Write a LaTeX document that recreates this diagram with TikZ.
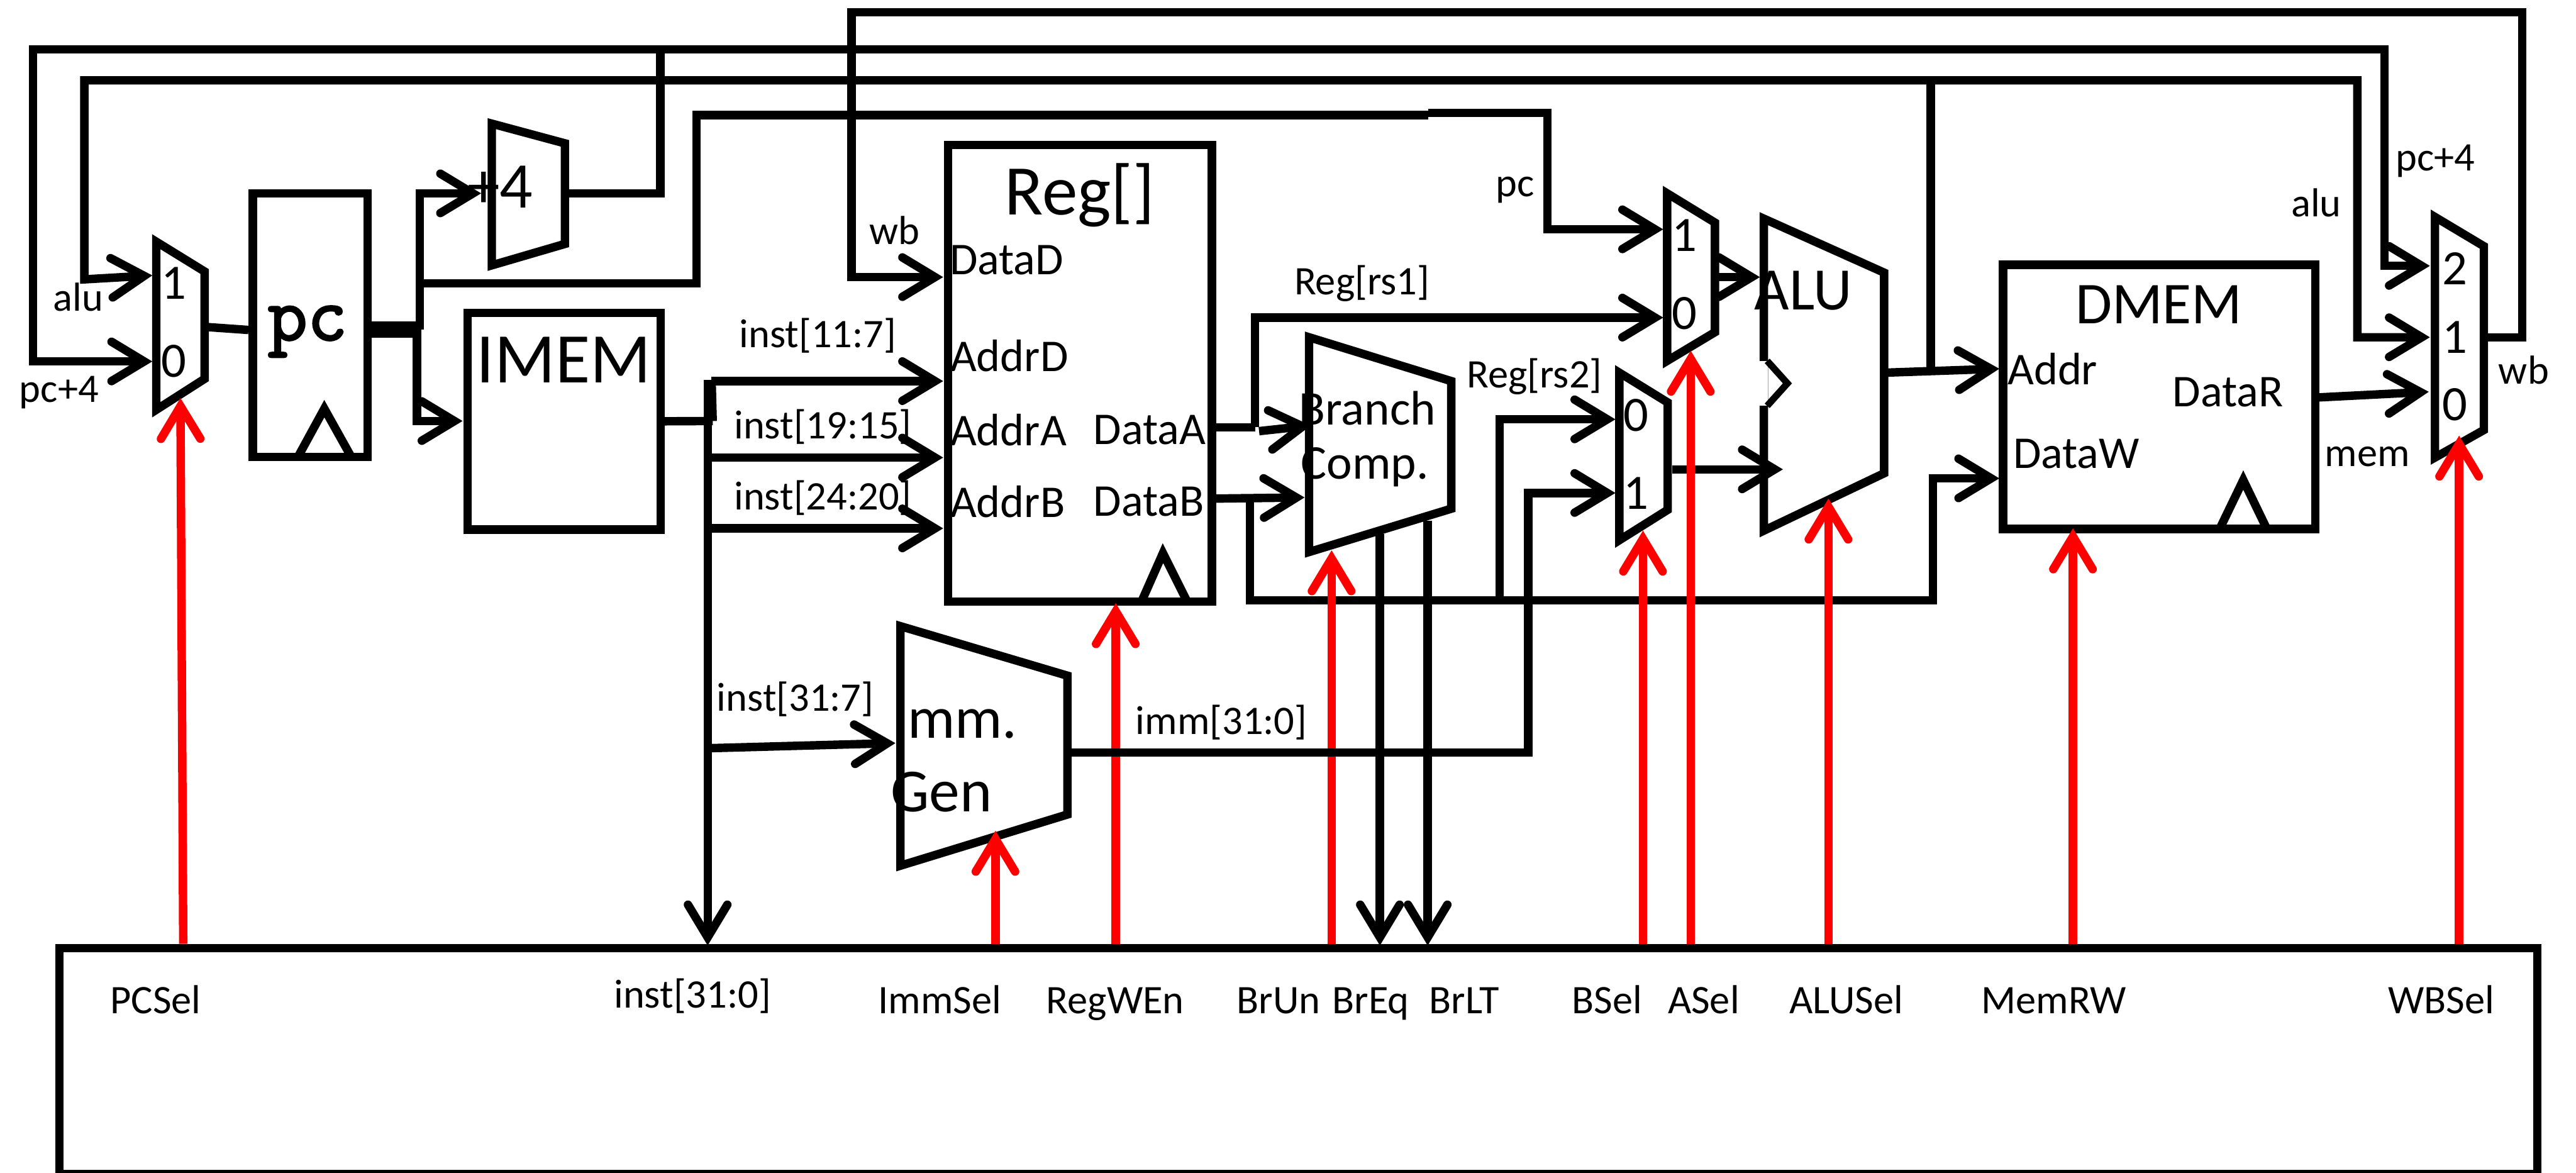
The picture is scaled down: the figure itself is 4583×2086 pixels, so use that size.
\documentclass[tikz,border=0pt]{standalone}
\usepackage{fontspec}
\setmainfont{Carlito}
\newfontfamily\pcfont[FakeBold=2.5]{Latin Modern Mono}
\usetikzlibrary{arrows.meta}
\newcommand{\fz}[1]{\fontsize{#1}{#1}\selectfont}
\tikzset{
  wire/.style={line width=.15cm,draw=black,>={Straight Barb[length=.58cm,width=.7cm,line cap=round]}},
  ctl/.style={line width=.15cm,draw=red,>={Straight Barb[length=.58cm,width=.7cm,line cap=round]}},
  outline/.style={line width=.15cm,draw=black,line join=miter},
  blk/.style={outline,rectangle,inner sep=0pt,outer sep=0pt},
  lbl/.style={inner sep=0pt,font=\fz{20.5}},
  sig/.style={inner sep=0pt,anchor=base,font=\fz{20.5}},
  port/.style={inner sep=0pt,anchor=west,font=\fz{23}},
  dig/.style={inner sep=0pt,font=\fz{25}},
  ttl/.style={inner sep=0pt,font=\fz{36}},
  mid/.style={inner sep=0pt,font=\fz{24.5}},
  clk/.style={line width=.15cm,draw=black},
}
\begin{document}
\begin{tikzpicture}[x=0.01cm,y=-0.01cm]
\useasboundingbox (0,0) rectangle (4583,2086);
% blocks
\node[blk,minimum width=2.04cm,minimum height=4.69cm] (pcreg) at (552,578.5) {};
\node[blk,minimum width=3.43cm,minimum height=3.85cm] (imem) at (1003.5,749.5) {};
\node[blk,minimum width=4.69cm,minimum height=8.12cm] (regs) at (1921.5,664) {};
\node[blk,minimum width=5.55cm,minimum height=4.70cm] (dmem) at (3841.5,706) {};
\node[blk,minimum width=44.06cm,minimum height=4.02cm] (ctrl) at (2310,1888) {};
% trapezoids
\draw[outline] (278,430) -- (364,483) -- (364,674) -- (278,729) -- cycle;
\draw[outline] (875,220) -- (1005,255) -- (1005,434) -- (875,472) -- cycle;
\draw[outline] (1602,1114) -- (1899,1202) -- (1899,1449) -- (1602,1540) -- cycle;
\draw[outline] (2329,600) -- (2582,678) -- (2582,905) -- (2329,982) -- cycle;
\draw[outline] (2966,344) -- (3051,396) -- (3051,591) -- (2966,642) -- cycle;
\draw[outline] (2881,663) -- (2967,716) -- (2967,907) -- (2881,961) -- cycle;
\draw[outline] (3138,389) -- (3352,485) -- (3352,842) -- (3138,944) -- cycle;
\draw[outline] (4332,386) -- (4419,438) -- (4419,765) -- (4332,814) -- cycle;
\fill[white] (3129,642) rectangle (3145,722);
\draw[line width=.12cm] (3144,642) -- (3180,682) -- (3144,722);
% clock triangles
\draw[clk] (530,813) -- (577,727) -- (625,813);
\draw[clk] (2031,1070) -- (2069,984) -- (2112,1070);
\draw[clk] (3949,941) -- (3991,854) -- (4033,941);
% ports and bends
\foreach \n/\x/\y in {
  muxAin1/271/490, muxAin0/271/643, muxAout/371/582, pcin/442/587,
  pcout/660/586, pcbus/746/586, addIn/856/344, addOut/1005/344, addUp/1175/344, addTop/1175/88,
  upA/747/586, upB/747/344, pcTap/747/504, pcR/1239/504, pcT/1239/205, pcS/2541/205, pcS2/2541/201, pcV/2753/201, pcH/2753/408, muxBin1/2959/408,
  dnA/742/586, dnB/742/749, imemIn/823/749,
  instTop/1266/676, instBot/1259/1682, instTopB/1259/676, tap1/1266/678, tap2/1259/814, tap3/1259/940, tap4/1263/1331,
  instOut/1268/749, dIn/1678/678, aIn/1678/814, bIn/1678/940, immIn/1593/1322,
  wbOut/4424/600, wbR/4487/600, wbT/4487/22, wbL/1515/22, wbB/1515/493, wbIn/1678/493,
  l88a/59/643, l88b/59/88, l88c/4242/88, l88d/4242/473, muxD2/4323/473,
  l143a/150/497, l143b/150/143, l143c/4194/143, l143d/4194/600, muxD1/4323/600,
  aluTap/3435/143, aluTapB/3435/660, aluOut/3354/663, addrIn/3557/656,
  dAout/2160/760, dAv/2233/760, dAt/2233/565, muxB0/2959/565, dAs/2240/767, cmpA/2332/757,
  dBout/2160/887, cmpB/2321/885, dBv/2224/887, dBb/2224/1068, dBm/2668/1068, dBu/2668/746, muxC0/2874/746,
  dBr/3439/1068, dBn/3439/851, dwIn/3557/851,
  immOut/1903/1339, immR/2719/1339, immU/2719/877, muxC1/2874/877,
  muxBout/3058/493, aluA/3131/493, muxCout/2975/835, aluB/3172/835,
  memOut/4125/707, muxD0/4321/697,
  eqTop/2455/950, eqBot/2455/1682, ltTop/2540/926, ltBot/2540/1682,
  rPCa/326/1679, rPCb/321/708, rImma/1771/1679, rImmb/1771/1478, rRega/1985/1679, rRegb/1985/1073,
  rUna/2369/1679, rUnb/2369/979, rBa/2923/1679, rBb/2923/944, rAa/3008/1679, rAb/3008/624,
  rALa/3253/1679, rALb/3253/887, rMa/3688/1679, rMb/3688/940, rWa/4375/1679, rWb/4375/775}
  {\coordinate (\n) at (\x,\y);}
% black wires
\draw[wire,<->] (muxAin0) -- (l88a) -- (l88b) -- (l88c) -- (l88d) -- (muxD2);
\draw[wire,<->] (muxAin1) -- (l143a) -- (l143b) -- (l143c) -- (l143d) -- (muxD1);
\draw[wire] (addOut) -- (addUp) -- (addTop);
\draw[wire,->] (wbOut) -- (wbR) -- (wbT) -- (wbL) -- (wbB) -- (wbIn);
\draw[wire] (muxAout) -- (pcin);
\draw[line width=.29cm] (pcout) -- (pcbus);
\draw[wire,->] (upA) -- (upB) -- (addIn);
\draw[wire] (pcTap) -- (pcR) -- (pcT) -- (pcS);
\draw[wire,->] (pcS2) -- (pcV) -- (pcH) -- (muxBin1);
\draw[wire,->] (dnA) -- (dnB) -- (imemIn);
\draw[wire] (imem.east) -- (instOut);
\draw[wire] (instTop) -- (instOut);
\draw[wire,->] (instTopB) -- (instBot);
\draw[wire,->] (tap1) -- (dIn);
\draw[wire,->] (tap2) -- (aIn);
\draw[wire,->] (tap3) -- (bIn);
\draw[wire,->] (tap4) -- (immIn);
\draw[wire] (aluTap) -- (aluTapB);
\draw[wire,->] (aluOut) -- (addrIn);
\draw[wire] (dAout) -- (dAv);
\draw[wire,->] (dAv) -- (dAt) -- (muxB0);
\draw[wire,->] (dAs) -- (cmpA);
\draw[wire,->] (dBout) -- (cmpB);
\draw[wire] (dBv) -- (dBb) -- (dBm);
\draw[wire,->] (dBm) -- (dBu) -- (muxC0);
\draw[wire,->] (dBm) -- (dBr) -- (dBn) -- (dwIn);
\draw[wire,->] (muxBout) -- (aluA);
\draw[wire,->] (muxCout) -- (aluB);
\draw[wire,->] (memOut) -- (muxD0);
\draw[wire,->] (eqTop) -- (eqBot);
\draw[wire,->] (ltTop) -- (ltBot);
% control signals
\draw[ctl,->] (rPCa) -- (rPCb);
\draw[ctl,->] (rImma) -- (rImmb);
\draw[ctl,->] (rRega) -- (rRegb);
\draw[ctl,->] (rUna) -- (rUnb);
\draw[ctl,->] (rBa) -- (rBb);
\draw[ctl,->] (rAa) -- (rAb);
\draw[ctl,->] (rALa) -- (rALb);
\draw[ctl,->] (rMa) -- (rMb);
\draw[ctl,->] (rWa) -- (rWb);
% imm wire passes over the red lines
\draw[wire,->] (immOut) -- (immR) -- (immU) -- (muxC1);
% texts in blocks
\node[inner sep=0pt,font=\fz{39}\pcfont] (tpc) at (547,590) {pc};
\node[ttl] (timem) at (1003,640) {IMEM};
\node[ttl] (treg) at (1921,347) {Reg[]};
\node[ttl,font=\fz{33}] (tplus) at (890,332) {+4};
\node[ttl,font=\fz{30}] (tdmem) at (3841,542) {DMEM};
\node[ttl,font=\fz{30.5}] (talu) at (3208,517) {ALU};
\node[ttl,font=\fz{30}] (timm) at (1699,1280) {Imm.};
\node[ttl,font=\fz{31}] (tgen) at (1675,1409) {Gen};
\node[mid] (tbr) at (2433,726) {Branch};
\node[mid] (tco) at (2428,831) {Comp.};
\node[port] (pdd) at (1689,463) {DataD};
\node[port] (pad) at (1690,633) {AddrD};
\node[port] (paa) at (1690,765) {AddrA};
\node[port] (pab) at (1690,892) {AddrB};
\node[port] (pda) at (1945,765) {DataA};
\node[port] (pdb) at (1945,892) {DataB};
\node[port] (paddr) at (3571,656) {Addr};
\node[port] (pdw) at (3581,807) {DataW};
\node[port] (pdr) at (3865,698) {DataR};
% mux digits
\node[dig] (a1) at (309,504) {1};
\node[dig] (a0) at (309,643) {0};
\node[dig] (b1) at (2997,419) {1};
\node[dig] (b0) at (2997,558) {0};
\node[dig] (c0) at (2911,739) {0};
\node[dig] (c1) at (2911,877) {1};
\node[dig] (d2) at (4367,478) {2};
\node[dig] (d1) at (4367,600) {1};
\node[dig] (d0) at (4367,720) {0};
% signal labels
\node[lbl] (lalu) at (139,529) {alu};
\node[lbl] (lpc4) at (105,698) {pc+4};
\node[lbl] (lwb) at (1592,410) {wb};
\node[lbl] (li1) at (1455,597) {inst[11:7]};
\node[lbl] (li2) at (1464,759) {inst[19:15]};
\node[lbl] (li3) at (1464,886) {inst[24:20]};
\node[lbl] (li4) at (1415,1244) {inst[31:7]};
\node[lbl] (limm) at (2173,1285) {imm[31:0]};
\node[lbl] (lpc) at (2696,338) {pc};
\node[lbl] (lr1) at (2423,504) {Reg[rs1]};
\node[lbl] (lr2) at (2730,670) {Reg[rs2]};
\node[lbl] (lmem) at (4212,812) {mem};
\node[lbl] (lalu2) at (4121,361) {alu};
\node[lbl] (lpc42) at (4333,286) {pc+4};
\node[lbl] (lwb2) at (4490,658) {wb};
% control unit labels
\node[sig] (s1) at (277,1803) {PCSel};
\node[sig] (s2) at (1232,1793) {inst[31:0]};
\node[sig] (s3) at (1672,1803) {ImmSel};
\node[sig] (s4) at (1984,1803) {RegWEn};
\node[sig] (s5) at (2275,1803) {BrUn};
\node[sig] (s6) at (2439,1803) {BrEq};
\node[sig] (s7) at (2605,1803) {BrLT};
\node[sig] (s8) at (2859,1803) {BSel};
\node[sig] (s9) at (3031,1803) {ASel};
\node[sig] (s10) at (3285,1803) {ALUSel};
\node[sig] (s11) at (3654,1803) {MemRW};
\node[sig] (s12) at (4343,1803) {WBSel};
\end{tikzpicture}
\end{document}
